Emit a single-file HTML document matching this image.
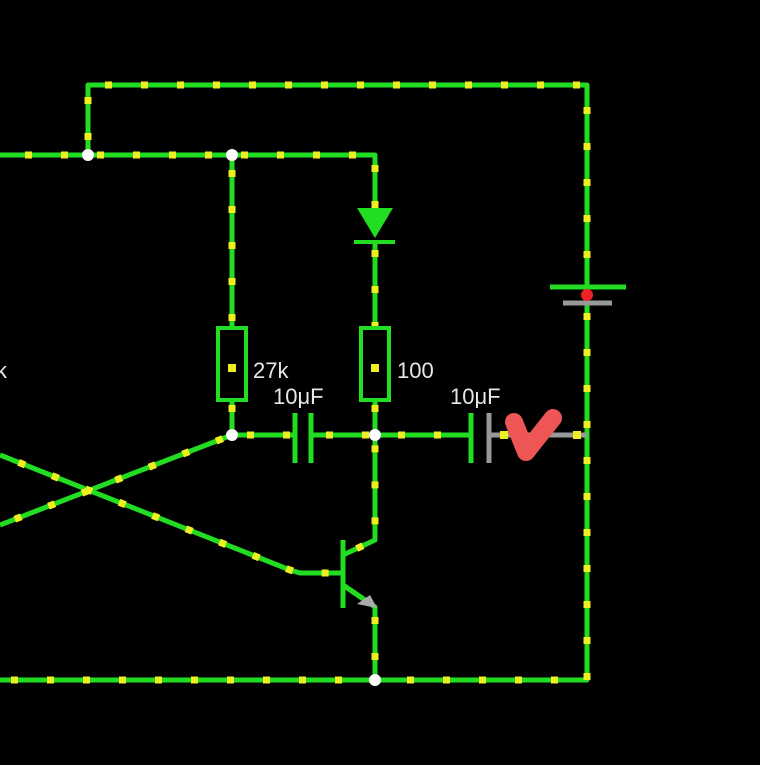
<!DOCTYPE html>
<html><head><style>html,body{margin:0;padding:0;background:#000;}svg{display:block}</style></head>
<body>
<svg width="760" height="765" viewBox="0 0 760 765" xmlns="http://www.w3.org/2000/svg">
<rect width="760" height="765" fill="#000"/>
<g fill="none" stroke="#22dd22" stroke-width="5" stroke-linejoin="round">
<polyline points="88,155 88,85 587,85 587,287"/>
<polyline points="587,303 587,680 0,680"/>
<polyline points="0,155 375,155 375,210"/>
<line x1="375" y1="240" x2="375" y2="328"/>
<line x1="232" y1="155" x2="232" y2="328"/>
<line x1="232" y1="400" x2="232" y2="435"/>
<line x1="375" y1="400" x2="375" y2="435"/>
<line x1="232" y1="435" x2="295" y2="435"/>
<line x1="311" y1="435" x2="471" y2="435"/>
<polyline points="232,435 0,525"/>
<polyline points="0,455 290,570 300,573 343,573"/>
<polyline points="343,555 375,540 375,435"/>
<polyline points="343,585 375,607 375,680"/>
</g>
<g fill="none" stroke="#eeee22" stroke-width="7" stroke-dasharray="7 29">
<polyline points="88,155 88,85 587,85 587,287" stroke-dashoffset="-15"/>
<polyline points="587,303 587,680 0,680" stroke-dashoffset="-10"/>
<polyline points="0,155 375,155 375,210" stroke-dashoffset="-25"/>
<line x1="375" y1="240" x2="375" y2="328" stroke-dashoffset="-10"/>
<line x1="232" y1="155" x2="232" y2="328" stroke-dashoffset="-15"/>
<line x1="232" y1="400" x2="232" y2="435" stroke-dashoffset="-5"/>
<line x1="375" y1="400" x2="375" y2="435" stroke-dashoffset="-5"/>
<line x1="232" y1="435" x2="295" y2="435" stroke-dashoffset="-15"/>
<line x1="311" y1="435" x2="471" y2="435" stroke-dashoffset="-15"/>
<polyline points="232,435 0,525" stroke-dashoffset="-10"/>
<polyline points="0,455 290,570 300,573 343,573" stroke-dashoffset="-20"/>
<polyline points="343,555 375,540 375,435" stroke-dashoffset="-15"/>
<polyline points="375,607 375,680" stroke-dashoffset="-10"/>
</g>
<rect x="218" y="328" width="28" height="72" fill="none" stroke="#22dd22" stroke-width="4"/>
<rect x="361" y="328" width="28" height="72" fill="none" stroke="#22dd22" stroke-width="4"/>
<rect x="228" y="364" width="8" height="8" fill="#eeee22"/>
<rect x="371" y="364" width="8" height="8" fill="#eeee22"/>
<polygon points="357,208 393,208 375,238" fill="#22dd22"/>
<line x1="354" y1="242" x2="395" y2="242" stroke="#22dd22" stroke-width="4"/>
<line x1="550" y1="287" x2="626" y2="287" stroke="#22dd22" stroke-width="5"/>
<line x1="563" y1="303" x2="612" y2="303" stroke="#999" stroke-width="5"/>
<circle cx="587" cy="295" r="6" fill="#e22"/>
<line x1="295" y1="413" x2="295" y2="463" stroke="#22dd22" stroke-width="5"/>
<line x1="311" y1="413" x2="311" y2="463" stroke="#22dd22" stroke-width="5"/>
<line x1="471" y1="413" x2="471" y2="463" stroke="#22dd22" stroke-width="5"/>
<line x1="489" y1="413" x2="489" y2="463" stroke="#999" stroke-width="5"/>
<line x1="489" y1="435" x2="587" y2="435" stroke="#999" stroke-width="5"/>
<rect x="500" y="431" width="8" height="8" fill="#eeee22"/><rect x="573" y="431" width="8" height="8" fill="#eeee22"/>
<line x1="343" y1="540" x2="343" y2="608" stroke="#22dd22" stroke-width="5"/>
<line x1="343" y1="585" x2="365" y2="600" stroke="#22dd22" stroke-width="5"/>
<polygon points="357,604 370,595 377,608" fill="#aaa"/>
<g fill="#fff"><circle cx="88" cy="155" r="6"/><circle cx="232" cy="155" r="6"/><circle cx="232" cy="435" r="6"/><circle cx="375" cy="435" r="6"/><circle cx="375" cy="680" r="6"/></g>
<path d="M514,422 L526,452 L553,418" fill="none" stroke="#ee5555" stroke-width="18" stroke-linecap="round" stroke-linejoin="round"/>
<g fill="#e8e8e8" font-family="Liberation Sans, sans-serif" font-size="22">
<text x="-4" y="378">k</text>
<text x="253" y="378">27k</text>
<text x="397" y="378">100</text>
<text x="273" y="404">10μF</text>
<text x="450" y="404">10μF</text>
</g>
</svg>
</body></html>
